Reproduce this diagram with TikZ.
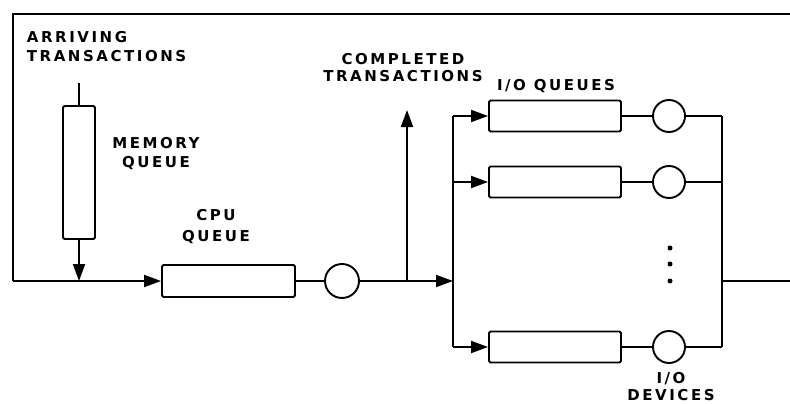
\documentclass[tikz,border=0pt]{standalone}
\usepackage{fontspec}
\usetikzlibrary{arrows.meta}
\newfontfamily\lblfont[LetterSpace=17]{DejaVu Sans}
\begin{document}
\begin{tikzpicture}[x=1pt,y=-1pt,
  line width=1.9pt,
  lbl/.style={font=\lblfont\bfseries\fontsize{15}{19}\selectfont, inner sep=0pt, align=center},
  qbox/.style={draw, rounded corners=1.5pt, minimum width=132pt, minimum height=31pt, inner sep=0pt},
  srv/.style={draw, circle, minimum size=32pt, inner sep=0pt},
  flow/.style={-{Triangle[length=17pt,width=12pt]}},
  dot/.style={fill, circle, minimum size=5pt, inner sep=0pt}]
\useasboundingbox (0,0) rectangle (790,404);

% labels
\node[lbl, align=left, anchor=west] (arr) at (26,47) {ARRIVING\\TRANSACTIONS};
\node[lbl] (memlbl) at (156,154) {MEMORY\\QUEUE};
\node[lbl, font=\lblfont\bfseries\fontsize{15}{21}\selectfont] (cpulbl) at (216,227) {CPU\\QUEUE};
\node[lbl, font=\lblfont\bfseries\fontsize{15}{17}\selectfont] (complbl) at (403,68) {COMPLETED\\TRANSACTIONS};
\node[lbl] (ioqlbl) at (556,86) {I/O QUEUES};
\node[lbl, font=\lblfont\bfseries\fontsize{15}{17}\selectfont] (iodlbl) at (671,387) {I/O\\DEVICES};

% nodes
\node[draw, rounded corners=1.5pt, minimum width=32pt, minimum height=133pt, inner sep=0pt] (mem) at (79,172.5) {};
\node[qbox, minimum width=133pt, minimum height=32pt] (cpu) at (228.5,281) {};
\node[srv, minimum size=34pt] (cpusrv) at (342,281) {};
\node[qbox] (q1) at (555,116) {};
\node[qbox] (q2) at (555,182) {};
\node[qbox] (q3) at (555,347) {};
\node[srv] (d1) at (669,116) {};
\node[srv] (d2) at (669,182) {};
\node[srv] (d3) at (669,347) {};
\node[dot] (p1) at (670,248) {};
\node[dot] (p2) at (670,264) {};
\node[dot] (p3) at (670,281) {};

% coordinates
\coordinate (in) at (79,83);
\coordinate (mj) at (79,281);
\coordinate (tl) at (13,14);
\coordinate (tr) at (790,14);
\coordinate (bl) at (13,281);
\coordinate (cj) at (407,281);
\coordinate (ctop) at (407,110);
\coordinate (bus) at (453,281);
\coordinate (bt) at (453,116);
\coordinate (bm) at (453,182);
\coordinate (bb) at (453,347);
\coordinate (rt) at (722,116);
\coordinate (rm) at (722,182);
\coordinate (rb) at (722,347);
\coordinate (ro) at (722,281);
\coordinate (out) at (790,281);

% connectors
\draw (in) -- (mem.north);
\draw[flow] (mem.south) -- (mj);
\draw (tr) -- (tl) -- (bl);
\draw[flow] (bl) -- (cpu.west);
\draw (cpu.east) -- (cpusrv.west);
\draw[flow] (cpusrv.east) -- (bus);
\draw[flow] (cj) -- (ctop);
\draw (bt) -- (bb);
\draw[flow] (bt) -- (q1.west);
\draw[flow] (bm) -- (q2.west);
\draw[flow] (bb) -- (q3.west);
\draw (q1.east) -- (d1.west);
\draw (q2.east) -- (d2.west);
\draw (q3.east) -- (d3.west);
\draw (d1.east) -- (rt);
\draw (d2.east) -- (rm);
\draw (d3.east) -- (rb);
\draw (rt) -- (rb);
\draw (ro) -- (out);
\end{tikzpicture}
\end{document}
